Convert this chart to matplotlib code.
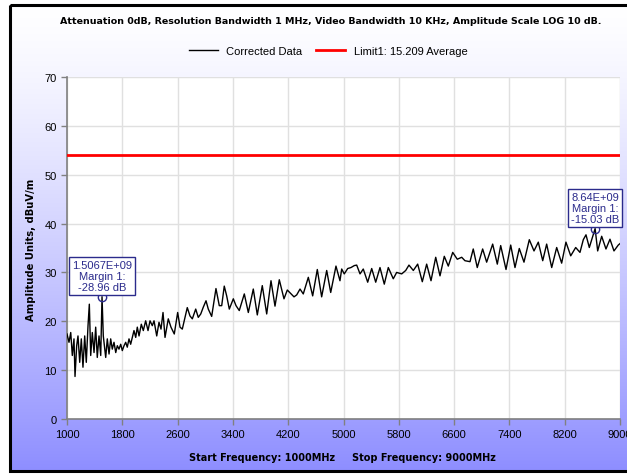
import numpy as np
import matplotlib
matplotlib.use("Agg")
import matplotlib.pyplot as plt
from matplotlib.patches import Rectangle
from matplotlib.lines import Line2D

# Corrected data trace (MHz, dBuV/m)
freq_mhz = [
    1000, 1029, 1054, 1077, 1101, 1116, 1140, 1159, 1184, 1207,
    1231, 1256, 1279, 1304, 1323, 1343, 1366, 1391, 1415, 1438,
    1463, 1488, 1506.7, 1525, 1560, 1583, 1608, 1632, 1655, 1680,
    1705, 1728, 1752, 1777, 1800, 1825, 1849, 1872, 1897, 1921,
    1945, 1969, 1994, 2017, 2042, 2075, 2104, 2138, 2172, 2201,
    2234, 2259, 2298, 2331, 2360, 2389, 2418, 2465, 2504, 2552,
    2601, 2635, 2668, 2707, 2740, 2779, 2813, 2862, 2899, 2935,
    2972, 3011, 3044, 3093, 3155, 3203, 3238, 3275, 3310, 3348,
    3406, 3445, 3492, 3565, 3623, 3695, 3753, 3825, 3889, 3951,
    4009, 4071, 4139, 4187, 4236, 4284, 4323, 4371, 4418, 4491,
    4554, 4621, 4684, 4757, 4815, 4891, 4949, 4974, 5011, 5061,
    5108, 5156, 5191, 5239, 5286, 5350, 5408, 5466, 5528, 5590,
    5648, 5720, 5769, 5842, 5900, 5947, 6010, 6073, 6140, 6203,
    6266, 6334, 6396, 6458, 6516, 6580, 6646, 6710, 6757, 6830,
    6877, 6935, 7013, 7071, 7158, 7225, 7274, 7351, 7419, 7481,
    7543, 7611, 7688, 7756, 7818, 7882, 7939, 8012, 8084, 8156,
    8218, 8287, 8359, 8421, 8469, 8508, 8556, 8640, 8677, 8735,
    8797, 8855, 8913, 8975, 9000,
]
level_dbuv = [
    17.4, 15.7, 17.7, 13.0, 16.4, 8.7, 15.0, 17.0, 11.6, 16.4,
    10.6, 17.0, 11.6, 19.1, 23.5, 13.0, 17.7, 13.6, 18.8, 12.6,
    17.0, 13.0, 25.04, 17.0, 12.6, 16.4, 13.3, 16.4, 14.3, 15.7,
    13.6, 15.0, 14.3, 15.3, 14.0, 15.0, 15.7, 14.7, 16.4, 15.3,
    16.7, 18.1, 16.7, 18.8, 17.0, 19.4, 18.1, 20.1, 18.1, 20.1,
    19.1, 20.1, 17.0, 19.8, 18.4, 21.8, 16.7, 20.5, 18.8, 17.4,
    21.8, 18.8, 18.4, 20.8, 22.8, 21.1, 20.5, 22.5, 20.8, 21.5,
    22.9, 24.2, 22.5, 21.0, 26.7, 23.2, 23.2, 27.2, 25.2, 22.5,
    24.6, 23.2, 22.2, 25.6, 21.8, 26.6, 21.3, 27.3, 21.5, 28.3,
    23.1, 28.5, 24.6, 26.4, 25.7, 25.0, 25.4, 26.6, 25.6, 29.0,
    25.2, 30.6, 25.0, 30.4, 25.9, 31.3, 28.3, 30.7, 29.7, 30.8,
    31.0, 31.4, 31.5, 29.7, 30.7, 28.0, 30.8, 28.0, 31.0, 27.6,
    31.0, 28.7, 30.0, 29.7, 30.4, 31.5, 30.4, 31.7, 28.1, 31.7,
    28.3, 33.1, 29.3, 33.3, 31.3, 34.1, 32.7, 33.1, 32.4, 32.2,
    34.8, 31.0, 34.8, 32.1, 35.8, 31.7, 35.5, 30.6, 35.6, 31.0,
    34.9, 32.1, 36.7, 34.4, 36.2, 32.4, 35.8, 31.0, 35.1, 31.9,
    36.2, 33.4, 35.1, 34.1, 36.7, 37.7, 35.1, 38.97, 34.4, 37.4,
    34.8, 36.8, 34.4, 35.6, 35.9,
]

limit_level = 54.0
markers_f = [1506.7, 8640]
markers_v = [25.04, 38.97]
marker_text = ["1.5067E+09\nMargin 1:\n-28.96 dB",
               "8.64E+09\nMargin 1:\n-15.03 dB"]

x_ticks = list(range(1000, 9001, 800))
y_ticks = list(range(0, 71, 10))

W, H = 627, 477
fig = plt.figure(figsize=(W / 100, H / 100), dpi=100)

# background: framed vertical gradient (white -> lavender blue)
bg = fig.add_axes([0, 0, 1, 1])
bg.set_xlim(0, W)
bg.set_ylim(H, 0)
bg.axis("off")
t = np.linspace(0, 1, 256) ** 1.3
top = np.array([1.0, 1.0, 1.0])
bot = np.array([0x8e, 0x8e, 0xff]) / 255
grad = (top[None, :] * (1 - t[:, None]) + bot[None, :] * t[:, None])[:, None, :]
bg.imshow(grad, extent=[10, W + 5, 472, 6], aspect="auto", interpolation="bilinear")
bg.add_patch(Rectangle((10, 6), W, 466, fill=False, ec="black", lw=2.2))

ax = fig.add_axes([67 / W, 1 - 420 / H, (620 - 67) / W, (420 - 78) / H])
ax.set_facecolor("white")

ax.plot(freq_mhz, level_dbuv, color="black", lw=1.0, zorder=3)
ax.axhline(limit_level, color="#ff0000", lw=2.0, zorder=3)

ax.set_xlim(1000, 9000)
ax.set_ylim(0, 70)
ax.set_xticks(x_ticks)
ax.set_yticks(y_ticks)
ax.grid(True, color="#e0e0e0", lw=1.0, zorder=0)
ax.set_axisbelow(True)
for s in ["top", "right"]:
    ax.spines[s].set_visible(False)
for s in ["left", "bottom"]:
    ax.spines[s].set_color("#808080")
    ax.spines[s].set_linewidth(1.2)
ax.tick_params(colors="#808080", length=4, width=1, labelcolor="black",
               labelsize=8)
for lab in ax.get_xticklabels() + ax.get_yticklabels():
    lab.set_family("Liberation Sans")

# marker annotations
navy = "#2b2b8c"
for f, v, txt in zip(markers_f, markers_v, marker_text):
    ax.plot([f], [v], "o", mfc="none", mec=navy, mew=1.0, ms=6, zorder=4)
    ax.annotate(txt, xy=(f, v), xytext=(0, 3), textcoords="offset points",
                ha="center", va="bottom", color=navy, fontsize=8,
                family="Liberation Sans", linespacing=1.15, zorder=5,
                bbox=dict(boxstyle="square,pad=0.25", fc="white", ec=navy, lw=1.0))

# texts
fig.text(331 / W, 1 - 22 / H,
         "Attenuation 0dB, Resolution Bandwidth 1 MHz, Video Bandwidth 10 KHz, Amplitude Scale LOG 10 dB.",
         ha="center", va="center", fontsize=6.8, fontweight="bold")
fig.text(342 / W, 1 - 458 / H,
         "Start Frequency: 1000MHz     Stop Frequency: 9000MHz",
         ha="center", va="center", fontsize=7.0, fontweight="bold")
fig.text(31 / W, 1 - 250 / H, "Amplitude Units, dBuV/m", rotation=90,
         ha="center", va="center", fontsize=7.2, fontweight="bold")

handles = [Line2D([0], [0], color="black", lw=1.0),
           Line2D([0], [0], color="#ff0000", lw=2.0)]
fig.legend(handles, ["Corrected Data", "Limit1: 15.209 Average"],
           loc="center", bbox_to_anchor=(328 / W, 1 - 52 / H), ncol=2,
           frameon=False, prop={"family": "Liberation Sans", "size": 8},
           handlelength=2.6, columnspacing=1.2, handletextpad=0.8)

fig.savefig("out.png", dpi=100)
